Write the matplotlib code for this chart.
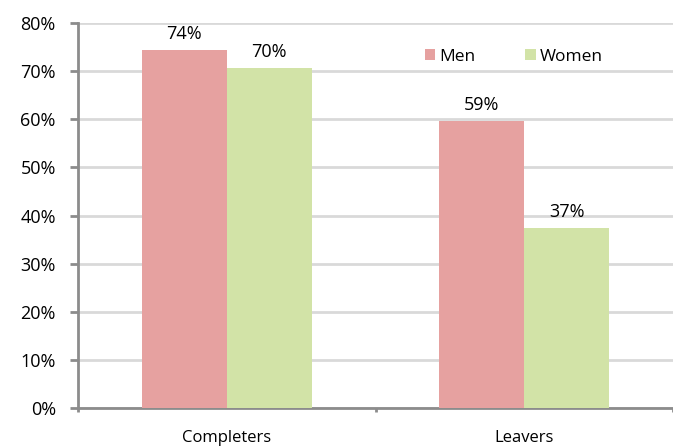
import numpy as np
import matplotlib.pyplot as plt

plt.rcParams['font.family'] = ['Open Sans', 'DejaVu Sans']
plt.rcParams['font.size'] = 13

categories = ['Completers', 'Leavers']
men = [74.4, 59.6]
women = [70.6, 37.4]
men_labels = ['74%', '59%']
women_labels = ['70%', '37%']

fig = plt.figure(figsize=(6.73, 4.46), dpi=100)
ax = fig.add_axes([0.1159, 0.0852, 0.8841, 0.8628])

x = np.arange(len(categories))
w = 0.285
b1 = ax.bar(x - w / 2, men, w, color='#e6a1a0', label='Men', zorder=3)
b2 = ax.bar(x + w / 2, women, w, color='#d2e3a7', label='Women', zorder=3)

for rect, lab in zip(b1, men_labels):
    ax.text(rect.get_x() + rect.get_width() / 2, rect.get_height() + 1.5, lab,
            ha='center', va='bottom', fontsize=13)
for rect, lab in zip(b2, women_labels):
    ax.text(rect.get_x() + rect.get_width() / 2, rect.get_height() + 1.5, lab,
            ha='center', va='bottom', fontsize=13)

ax.set_xlim(-0.5, 1.5)
ax.set_ylim(0, 80)
ax.set_yticks(np.arange(0, 81, 10))
ax.set_yticklabels([f'{v}%' for v in range(0, 81, 10)])
ax.yaxis.grid(True, color='#d9d9d9', linewidth=2, zorder=0)

ax.set_xticks([-0.5, 0.5, 1.5])
ax.set_xticklabels([])
ax.set_xticks(x, minor=True)
ax.set_xticklabels(categories, minor=True, fontsize=12)
ax.tick_params(axis='x', which='minor', length=0, pad=16)
ax.tick_params(axis='x', which='major', length=3, color='#8c8c8c', width=2)
ax.tick_params(axis='y', length=6, color='#8c8c8c', width=2, pad=10)

for s in ['top', 'right']:
    ax.spines[s].set_visible(False)
for s in ['left', 'bottom']:
    ax.spines[s].set_color('#8c8c8c')
    ax.spines[s].set_linewidth(2)

ax.legend(loc='center right', bbox_to_anchor=(611 / 673, 1 - 57 / 446),
          bbox_transform=fig.transFigure, ncol=2, frameon=False, borderpad=0,
          handlelength=0.6, handleheight=0.6, handletextpad=0.2, columnspacing=2.9,
          fontsize=12.5)

plt.savefig('out.png', dpi=100)
